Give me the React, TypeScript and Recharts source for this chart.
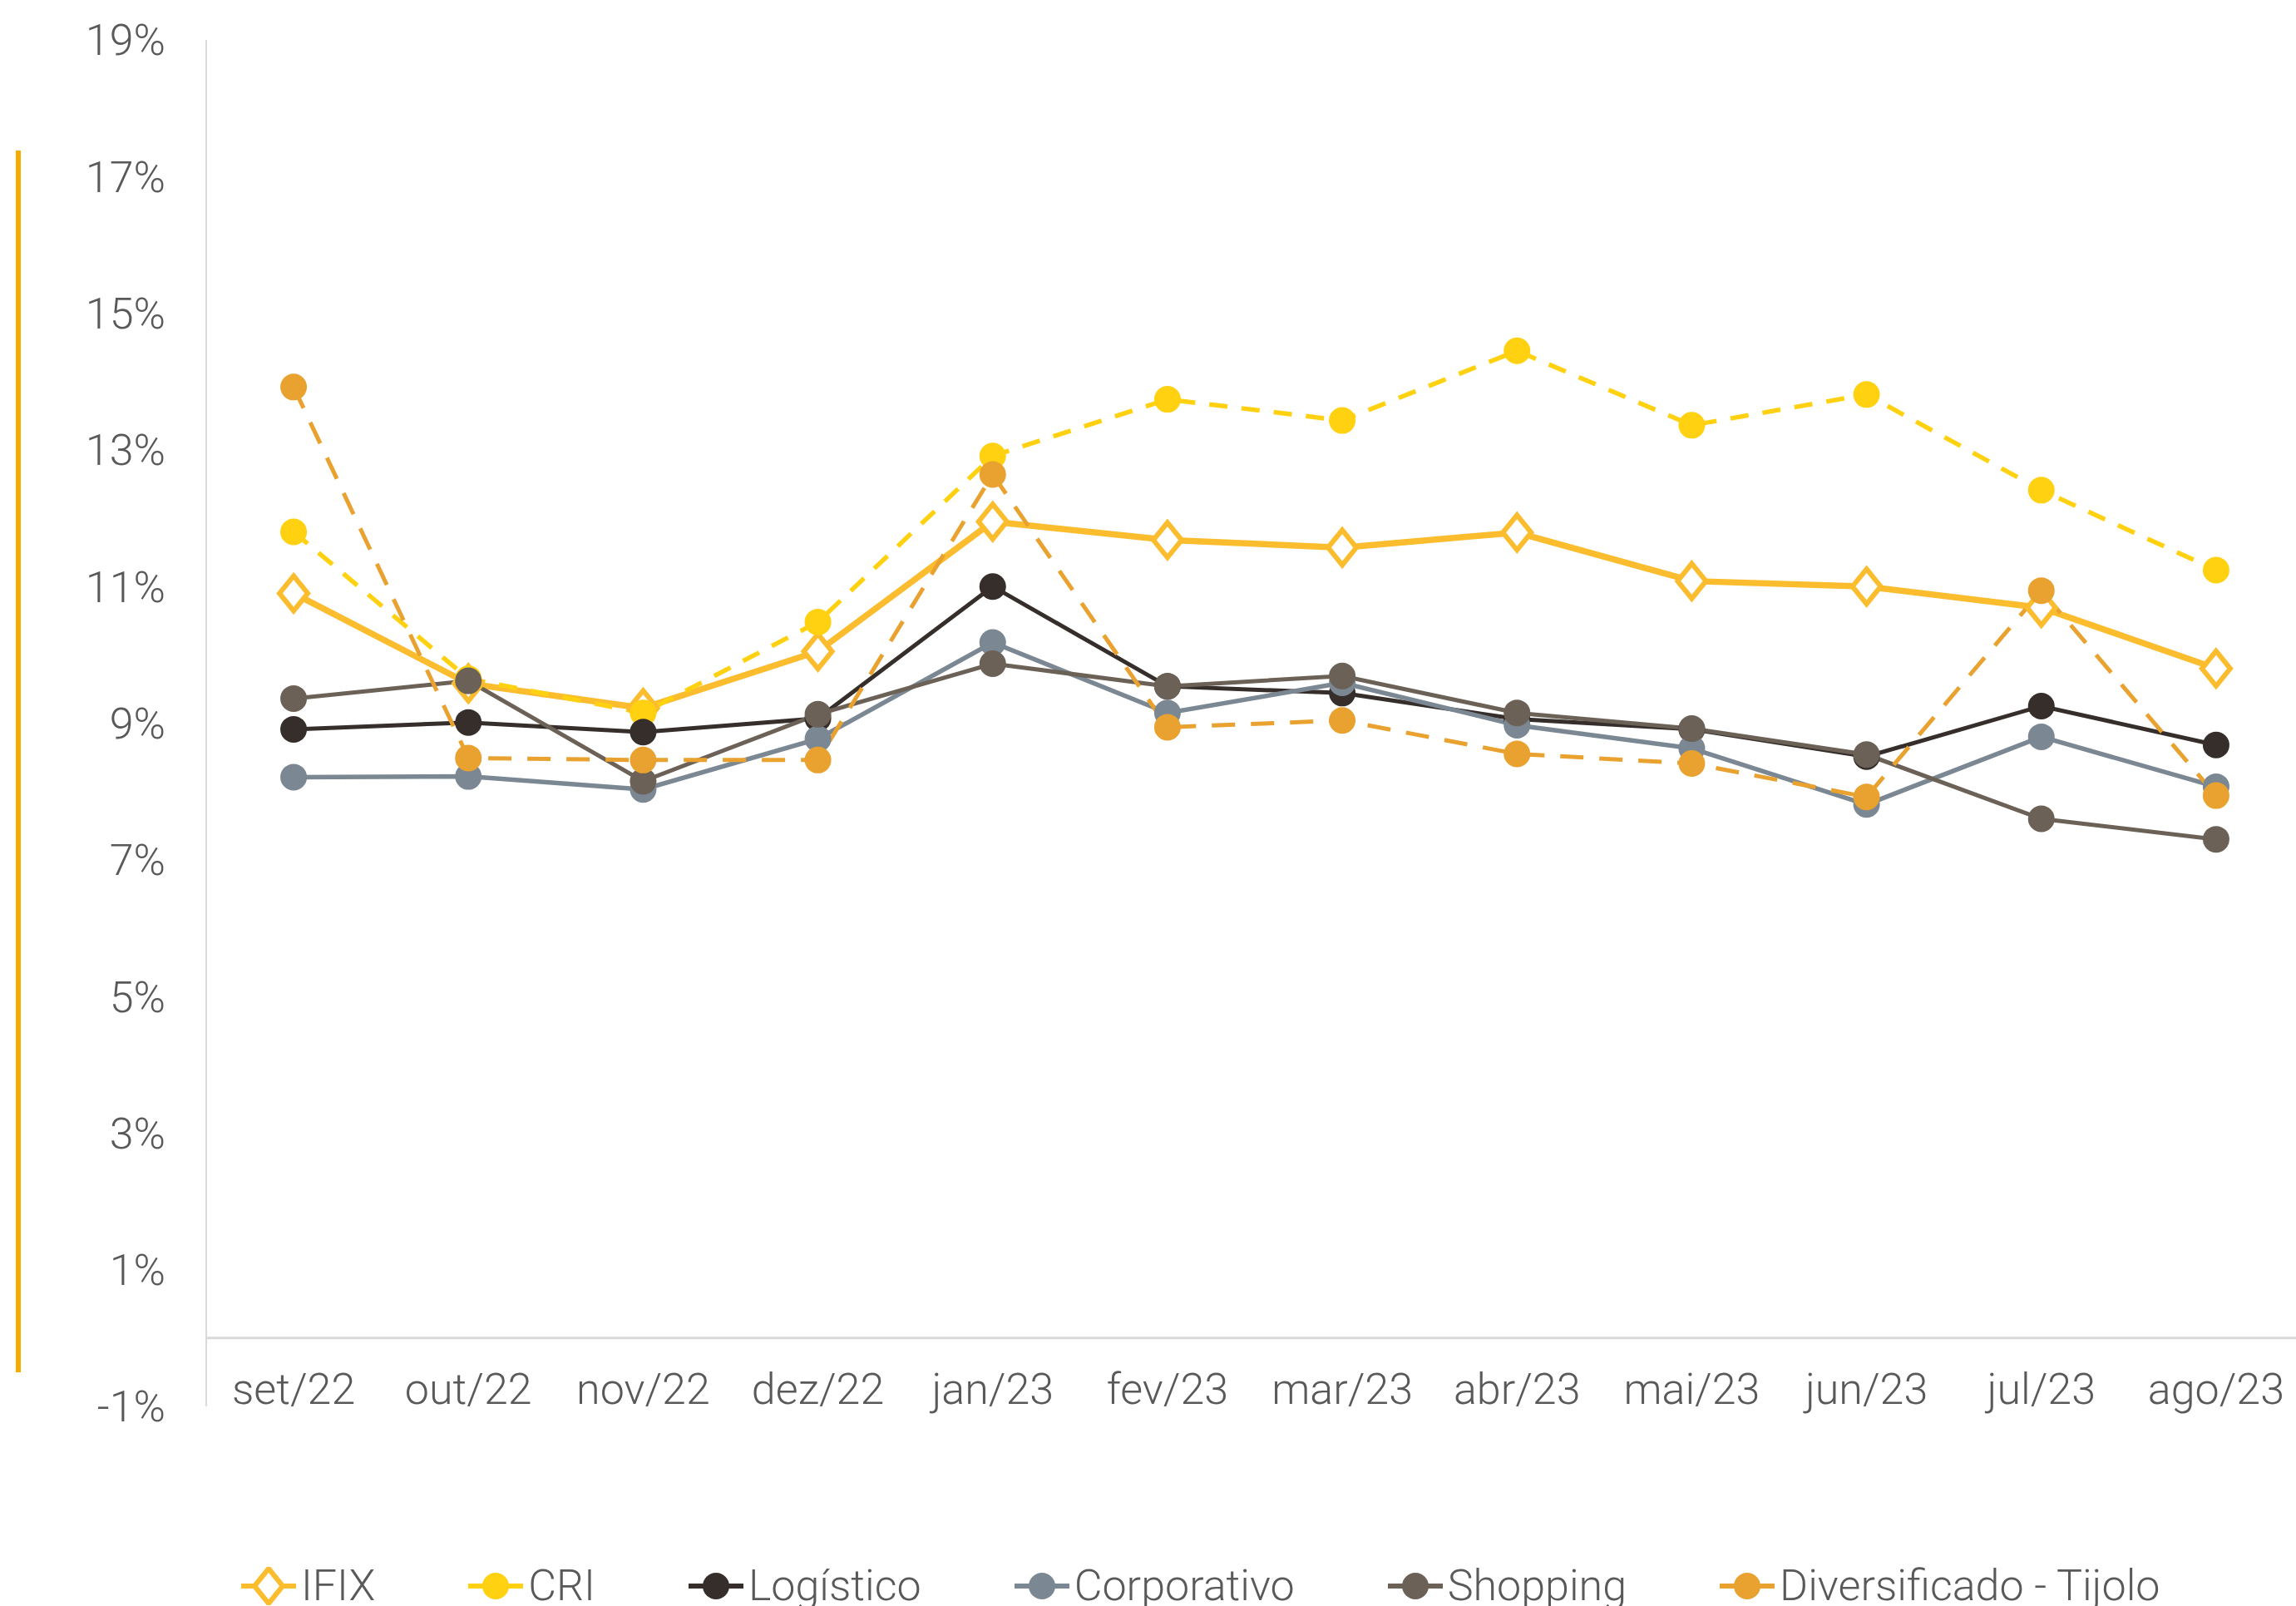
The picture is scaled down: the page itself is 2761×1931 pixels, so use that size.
import { LineChart, Line, XAxis, YAxis, ReferenceLine } from 'recharts'

// Meses e taxas (%)
const categories = ['set/22', 'out/22', 'nov/22', 'dez/22', 'jan/23', 'fev/23', 'mar/23', 'abr/23', 'mai/23', 'jun/23', 'jul/23', 'ago/23']
const ifix = [10.9, 9.58, 9.22, 10.05, 11.95, 11.68, 11.57, 11.79, 11.08, 11.0, 10.69, 9.8]
const cri = [11.8, 9.65, 9.15, 10.48, 12.91, 13.74, 13.43, 14.45, 13.36, 13.81, 12.41, 11.24]
const logistico = [8.91, 9.01, 8.87, 9.07, 11.0, 9.54, 9.44, 9.06, 8.91, 8.51, 9.25, 8.68]
const corporativo = [8.21, 8.22, 8.03, 8.77, 10.18, 9.15, 9.59, 8.97, 8.63, 7.81, 8.8, 8.07]
const shopping = [9.36, 9.62, 8.15, 9.13, 9.87, 9.54, 9.69, 9.15, 8.92, 8.54, 7.6, 7.3]
const diversificado = [13.92, 8.49, 8.46, 8.46, 12.64, 8.94, 9.04, 8.55, 8.41, 7.92, 10.94, 7.94]
const yTicks = [-1, 1, 3, 5, 7, 9, 11, 13, 15, 17, 19]

const TEXT = '#595959'
const FONT = 'Roboto, "Open Sans", sans-serif'
const FS = 52

const series = [
  { key: 'ifix', name: 'IFIX', color: '#FBBC2D', width: 7.5, dash: undefined, diamond: true },
  { key: 'cri', name: 'CRI', color: '#FFD111', width: 5.5, dash: '22 17', diamond: false },
  { key: 'logistico', name: 'Logístico', color: '#352E2B', width: 5, dash: undefined, diamond: false },
  { key: 'corporativo', name: 'Corporativo', color: '#7B8893', width: 5.5, dash: undefined, diamond: false },
  { key: 'shopping', name: 'Shopping', color: '#6C6157', width: 5, dash: undefined, diamond: false },
  { key: 'diversificado', name: 'Diversificado - Tijolo', color: '#E9A22F', width: 5, dash: '28 19', diamond: false },
]

const data = categories.map((mes, i) => ({
  mes,
  ifix: ifix[i],
  cri: cri[i],
  logistico: logistico[i],
  corporativo: corporativo[i],
  shopping: shopping[i],
  diversificado: diversificado[i],
}))

const diamondPoints = (cx: number, cy: number) =>
  `${cx},${cy - 21} ${cx + 17},${cy} ${cx},${cy + 21} ${cx - 17},${cy}`

const DiamondDot = (props: any) => {
  const { cx, cy, index, stroke } = props
  if (cx == null || cy == null) return <g key={`d-${index}`} />
  return (
    <polygon key={`d-${index}`} points={diamondPoints(cx, cy)} fill="#fff" stroke={stroke} strokeWidth={6} />
  )
}

const XTick = (props: any) => {
  const { x, y, payload } = props
  return (
    <text x={x} y={y - 21} textAnchor="middle" dominantBaseline="central" fill={TEXT} fontSize={FS} fontFamily={FONT} fontWeight={300}>
      {payload.value}
    </text>
  )
}

const LegendIcon = ({ s }: { s: typeof series[number] }) => (
  <svg width={66} height={46} style={{ display: 'block' }}>
    <line x1={0} y1={23} x2={66} y2={23} stroke={s.color} strokeWidth={6} />
    {s.diamond
      ? <polygon points={diamondPoints(33, 23)} fill="#fff" stroke={s.color} strokeWidth={6} />
      : <circle cx={33} cy={23} r={16} fill={s.color} />}
  </svg>
)

export default function App() {
  return (
    <div style={{ position: 'absolute', left: 0, top: 0, width: 2761, height: 1931, overflow: 'hidden', background: '#fff' }}>
      <div style={{ position: 'absolute', left: 19, top: 181, width: 6, height: 1469, background: '#F5AB00' }} />
      <LineChart width={2770} height={1931} data={data} margin={{ top: 48, right: 0, left: 0, bottom: 200 }}>
        <XAxis
          dataKey="mes"
          scale="band"
          height={40}
          axisLine={false}
          tickLine={false}
          tickSize={0}
          tickMargin={0}
          interval={0}
          tick={<XTick />}
        />
        <YAxis
          width={248}
          domain={[-1, 19]}
          ticks={yTicks}
          interval={0}
          tickFormatter={(v: number) => `${v}%`}
          axisLine={{ stroke: '#D9D9D9', strokeWidth: 2 }}
          tickLine={false}
          tickSize={0}
          tickMargin={49}
          tick={{ fill: TEXT, fontSize: FS, fontFamily: FONT, fontWeight: 300 }}
        />
        <ReferenceLine y={0} stroke="#D9D9D9" strokeWidth={3} />
        {series.map((s) => (
          <Line
            key={s.key}
            type="linear"
            dataKey={s.key}
            name={s.name}
            stroke={s.color}
            strokeWidth={s.width}
            strokeDasharray={s.dash}
            dot={s.diamond ? <DiamondDot /> : { r: 16, fill: s.color, stroke: 'none', strokeWidth: 0 }}
            activeDot={false}
            isAnimationActive={false}
          />
        ))}
      </LineChart>
      <div style={{ position: 'absolute', left: 290, top: 1881, display: 'flex', alignItems: 'center', fontFamily: FONT, fontWeight: 300, fontSize: FS, lineHeight: '52px', color: TEXT, whiteSpace: 'nowrap' }}>
        {series.map((s) => (
          <div key={s.key} style={{ display: 'flex', alignItems: 'center', marginRight: 112 }}>
            <LegendIcon s={s} />
            <span style={{ marginLeft: 6 }}>{s.name}</span>
          </div>
        ))}
      </div>
    </div>
  )
}
